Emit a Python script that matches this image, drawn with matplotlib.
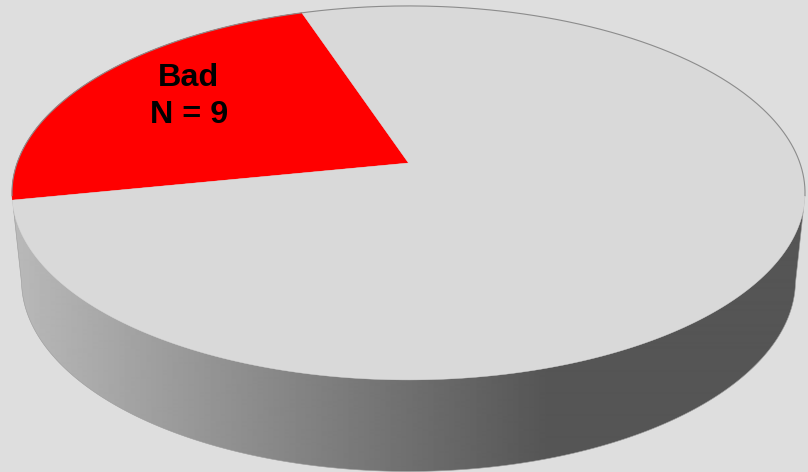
import numpy as np
import matplotlib
matplotlib.use("Agg")
import matplotlib.pyplot as plt
from matplotlib.patches import Polygon

categories = ["Bad", "Other"]
counts = [9, 30]
label_text = "Bad\nN = 9"

BG = "#dedede"
DISC = "#d9d9d9"
RED = "#ff0000"
RIM = "#8c8c8c"

START_FROM_TOP = 18.3   # degrees, counter-clockwise from the far point of the disc
K = 0.16


def project(theta, cx, cy, r, a):
    """Perspective view of the unit disc; theta in degrees ccw from the far point."""
    t = np.radians(theta)
    x = -np.sin(t)
    y = -np.cos(t)
    d = 1 - K * y
    return np.column_stack([cx + r * x / d, cy + a * y / d])


TOP = dict(cx=408.5, cy=163, r=391.4, a=182.2)
BOT = dict(cx=408.5, cy=250.0, r=382.0, a=186.0)

fig = plt.figure(figsize=(8.08, 4.72), dpi=100, facecolor=BG)
ax = fig.add_axes([0, 0, 1, 1])
ax.set_xlim(0, 808)
ax.set_ylim(472, 0)
ax.axis("off")

# side wall with a horizontal gradient
arc = project(np.linspace(100, 260, 240), **BOT)
wall = Polygon(np.vstack([project(np.array([100.0]), **TOP), arc,
                          project(np.array([260.0]), **TOP)]),
               closed=True, fc="none", ec="#9a9a9a", lw=0.4, zorder=2)
ax.add_patch(wall)
xs = np.linspace(0, 808, 808)
shade = np.clip(184 - (xs - 20) * 0.187, 85, 190)[None, :]
img = ax.imshow(shade, cmap="gray", vmin=0, vmax=255, extent=(0, 808, 472, 0),
                aspect="auto", zorder=1, interpolation="bilinear")
img.set_clip_path(wall)
ax.set_xlim(0, 808)
ax.set_ylim(472, 0)

# disc and slices
spans = 360 * np.array(counts) / sum(counts)
apex = np.array([[TOP["cx"], TOP["cy"]]])
angle = START_FROM_TOP
for name, span in zip(categories, spans):
    th = np.linspace(angle, angle + span, 300)
    color = RED if name == "Bad" else DISC
    ax.add_patch(Polygon(np.vstack([apex, project(th, **TOP)]), closed=True,
                         fc=color, ec=color, lw=0.3, zorder=3))
    angle += span

# rim along the far edge
rim = project(np.linspace(-100, 100, 300), **TOP)
ax.plot(rim[:, 0], rim[:, 1], color=RIM, lw=0.8, zorder=4)

ax.text(189, 96.5, label_text, ha="center", va="center", fontsize=23.3,
        fontweight="bold", family="Liberation Sans", color="black",
        linespacing=1.28, zorder=5)

fig.savefig("out.png", dpi=100, facecolor=BG)
